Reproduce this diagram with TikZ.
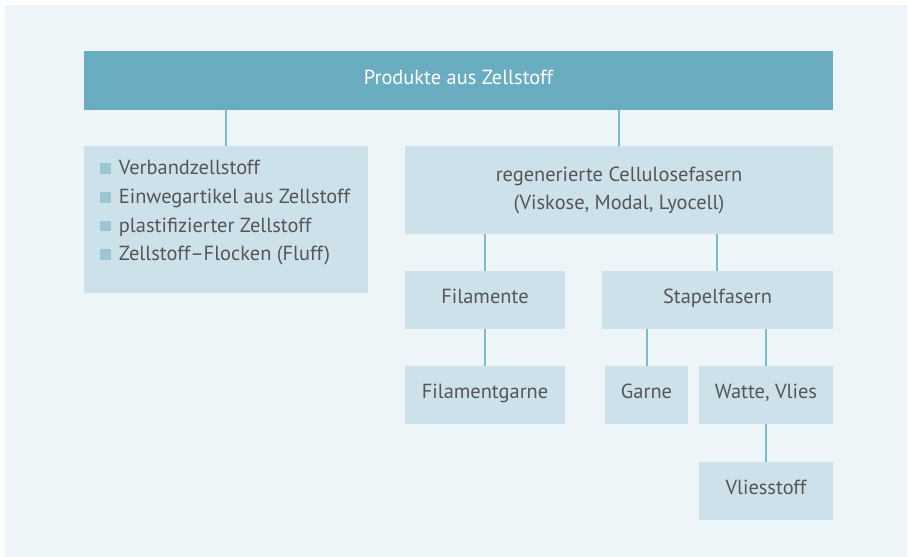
\documentclass[tikz,border=0pt]{standalone}
\usepackage{fontspec}
\setmainfont{PT Sans}
\definecolor{panel}{HTML}{EDF5F9}
\definecolor{bar}{HTML}{6AADC1}
\definecolor{boxc}{HTML}{CDE1EA}
\definecolor{linec}{HTML}{7BBBCC}
\definecolor{txt}{HTML}{555555}
\definecolor{bul}{HTML}{9BC7D5}
\newcommand{\bsq}{\textcolor{bul}{\rule[0.5pt]{8pt}{8pt}}\hspace{6pt}}
\tikzset{
  boxstyle/.style={fill=boxc, text=txt, inner sep=0pt, font=\fontsize{15.3}{21}\selectfont, align=center},
  conn/.style={draw=linec, line width=1.1pt}
}
\begin{document}
\begin{tikzpicture}[x=0.75pt,y=-0.75pt]
\useasboundingbox (0,0) rectangle (908,557);
\fill[white] (0,0) rectangle (908,557);
\fill[panel] (5,5) rectangle (907,557);
% top bar
\node[fill=bar, text=white, inner sep=0pt, minimum width=749*0.75pt, minimum height=59*0.75pt, font=\fontsize{15.3}{18}\selectfont] (top) at (458.5,80.5) {\raisebox{5.5pt}{Produkte aus Zellstoff}};
% left box
\node[fill=boxc, anchor=north west, inner sep=0pt, minimum width=284*0.75pt, minimum height=147*0.75pt] (left) at (84,146) {};
\node[text=txt, anchor=north west, inner sep=0pt, align=left, font=\fontsize{15.3}{21.5}\selectfont] (list) at (100,160) {\bsq Verbandzellstoff\\ \bsq Einwegartikel aus Zellstoff\\ \bsq plastifizierter Zellstoff\\ \bsq Zellstoff–Flocken (Fluff)};
% regen
\node[boxstyle, minimum width=428*0.75pt, minimum height=88*0.75pt] (regen) at (619,190) {\raisebox{6pt}{\parbox{300pt}{\centering regenerierte Cellulosefasern\\(Viskose, Modal, Lyocell)}}};
\node[boxstyle, minimum width=160*0.75pt, minimum height=58*0.75pt] (fil) at (485,300) {\raisebox{5.5pt}{Filamente}};
\node[boxstyle, minimum width=231*0.75pt, minimum height=58*0.75pt] (stap) at (717.5,300) {\raisebox{5.5pt}{Stapelfasern}};
\node[boxstyle, minimum width=160*0.75pt, minimum height=58*0.75pt] (filg) at (485,395) {\raisebox{5.5pt}{Filamentgarne}};
\node[boxstyle, minimum width=83*0.75pt, minimum height=58*0.75pt] (garne) at (646.5,395) {\raisebox{5.5pt}{Garne}};
\node[boxstyle, minimum width=134*0.75pt, minimum height=58*0.75pt] (watte) at (766,395) {\raisebox{5.5pt}{Watte, Vlies}};
\node[boxstyle, minimum width=134*0.75pt, minimum height=58*0.75pt] (vlies) at (766,491) {\raisebox{5.5pt}{Vliesstoff}};
% connectors
\draw[conn] (top.south -| 226,0) -- (left.north -| 226,0);
\draw[conn] (top.south -| regen.north) -- (regen.north);
\draw[conn] (regen.south -| fil.north) -- (fil.north);
\draw[conn] (regen.south -| 717,0) -- (stap.north -| 717,0);
\draw[conn] (fil.south) -- (filg.north);
\draw[conn] (stap.south -| 647,0) -- (garne.north -| 647,0);
\draw[conn] (stap.south -| watte.north) -- (watte.north);
\draw[conn] (watte.south) -- (vlies.north);
\end{tikzpicture}
\end{document}
